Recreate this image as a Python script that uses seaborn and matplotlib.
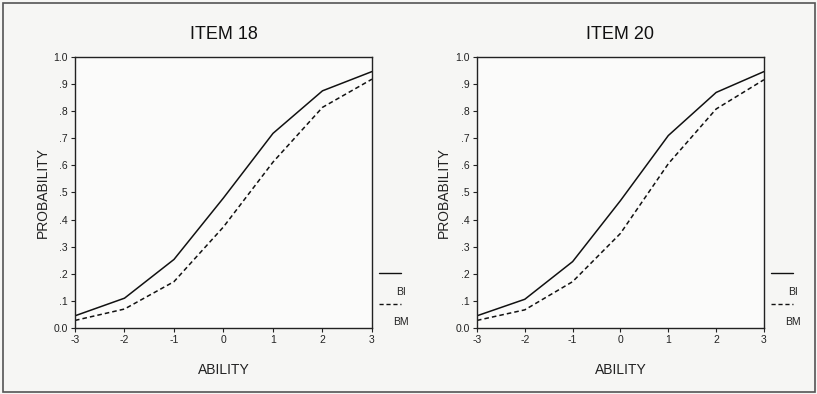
import matplotlib
matplotlib.use("Agg")
import matplotlib.pyplot as plt
import seaborn as sns
import pandas as pd
from matplotlib.lines import Line2D
from matplotlib.patches import Rectangle

sns.set_theme(style="ticks")
plt.rcParams['font.family'] = ['Liberation Sans', 'DejaVu Sans']

ability = [-3, -2, -1, 0, 1, 2, 3]
item18_bi = [0.045, 0.11, 0.253, 0.48, 0.718, 0.875, 0.946]
item18_bm = [0.028, 0.070, 0.171, 0.373, 0.612, 0.814, 0.918]
item20_bi = [0.045, 0.106, 0.245, 0.47, 0.71, 0.869, 0.946]
item20_bm = [0.028, 0.067, 0.171, 0.349, 0.606, 0.808, 0.916]
groups = ["BI", "BM"]
titles = ["ITEM 18", "ITEM 20"]
ytick_vals = [0.0, 0.1, 0.2, 0.3, 0.4, 0.5, 0.6, 0.7, 0.8, 0.9, 1.0]
ytick_labels = ["0.0", ".1", ".2", ".3", ".4", ".5", ".6", ".7", ".8", ".9", "1.0"]

def make_df(bi, bm):
    return pd.DataFrame({
        "ABILITY": ability * 2,
        "PROBABILITY": bi + bm,
        "group": [groups[0]] * len(ability) + [groups[1]] * len(ability),
    })

data = [make_df(item18_bi, item18_bm), make_df(item20_bi, item20_bm)]

fig = plt.figure(figsize=(8.17, 3.94), dpi=100, facecolor="#f6f6f4")
axes_pos = [[0.0918, 0.1675, 0.3635, 0.688], [0.5838, 0.1675, 0.3513, 0.688]]
legend_x = [0.464, 0.944]

for i, df in enumerate(data):
    ax = fig.add_axes(axes_pos[i])
    ax.set_facecolor("#fbfbfa")
    sns.lineplot(data=df, x="ABILITY", y="PROBABILITY", hue="group", style="group",
                 palette={"BI": "#111111", "BM": "#111111"},
                 dashes={"BI": "", "BM": (3, 2)}, linewidth=1.1, ax=ax, legend=False)
    ax.set_xlim(-3, 3)
    ax.set_ylim(0, 1.0)
    ax.set_xticks(ability)
    ax.set_xticklabels([str(a) for a in ability])
    ax.set_yticks(ytick_vals)
    ax.set_yticklabels(ytick_labels)
    ax.tick_params(axis="both", labelsize=7.5, length=3, width=0.8, color="#222222",
                   labelcolor="#222222", pad=2)
    for s in ax.spines.values():
        s.set_color("#222222")
        s.set_linewidth(1.0)
    ax.set_xlabel("ABILITY", fontsize=10, color="#222222", labelpad=13)
    ax.set_ylabel("PROBABILITY", fontsize=10, color="#222222", labelpad=3)
    ax.set_title(titles[i], fontsize=13, color="#111111", pad=13)

    # legend (SPSS style: key line with label underneath)
    lx = legend_x[i]
    fig.add_artist(Line2D([lx, lx + 0.027], [0.307, 0.307], color="#111111", lw=1.0))
    fig.text(lx + 0.027, 0.258, groups[0], fontsize=7.5, ha="center", va="center", color="#222222")
    fig.add_artist(Line2D([lx, lx + 0.027], [0.228, 0.228], color="#111111", lw=1.0,
                          linestyle=(0, (3, 2))))
    fig.text(lx + 0.027, 0.183, groups[1], fontsize=7.5, ha="center", va="center", color="#222222")

fig.add_artist(Rectangle((0.004, 0.005), 0.994, 0.987, transform=fig.transFigure,
                         fill=False, edgecolor="#555555", lw=1.2))

fig.savefig("out.png", dpi=100, facecolor=fig.get_facecolor())
